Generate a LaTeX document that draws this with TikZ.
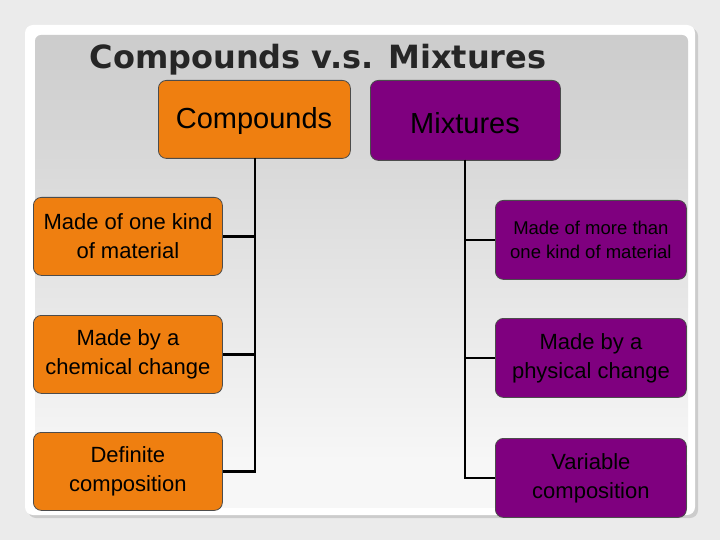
\documentclass[tikz,border=0pt]{standalone}
\usepackage{fontspec}
\setmainfont{Liberation Sans}
\newfontfamily\titlefont{DejaVu Sans}
\definecolor{org}{HTML}{EF7F10}
\definecolor{pur}{HTML}{7F007F}
\begin{document}
\begin{tikzpicture}[x=1pt,y=-1pt,
  box/.style={draw=black!70,line width=0.8pt,rounded corners=8pt,anchor=north west,inner sep=0pt,align=center},
  conn/.style={line width=2.5pt,black}]
\useasboundingbox (0,0) rectangle (720,540);
\fill[black!8] (0,0) rectangle (720,540);
\fill[black!20,rounded corners=8pt] (28,28) rectangle (698,518);
\fill[white,rounded corners=8pt] (25,25) rectangle (695,515);
\shade[top color=black!20,bottom color=black!3,rounded corners=6pt] (35,35) rectangle (688,465);
\fill[black!3] (35,465) rectangle (688,508);
\node[font=\titlefont\bfseries\fontsize{32}{36}\selectfont,text=black!85] (t) at (318,60) {Compounds v.s. Mixtures};
\node[box,fill=org,minimum width=192,minimum height=78] (c) at (158,80) {};
\node[font=\fontsize{29}{32}\selectfont] (ct) at (254,121) {Compounds};
\node[box,fill=pur,minimum width=190,minimum height=80] (m) at (370,80) {};
\node[font=\fontsize{29}{32}\selectfont] (mt) at (465,123) {Mixtures};
\foreach \n/\y/\t in {l1/197/{Made of one kind\\of material},l2/315/{Made by a\\chemical change},l3/432/{Definite\\composition}}{
  \node[box,fill=org,minimum width=189,minimum height=78] (\n) at (33,\y) {};
  \node[align=center,font=\fontsize{22}{29}\selectfont] (\n t) at (\n.center) {\t};
}
\foreach \n/\y/\t/\s/\b in {r1/200/{Made of more than\\one kind of material}/18.5/24,r2/318/{Made by a\\physical change}/22/29,r3/438/{Variable\\composition}/22/29}{
  \node[box,fill=pur,minimum width=191,minimum height=79] (\n) at (495,\y) {};
  \node[align=center,font=\fontsize{\s}{\b}\selectfont] (\n t) at (\n.center) {\t};
}
\coordinate (lt) at (255,158); \coordinate (rt) at (465,160);
\draw[conn] (lt) |- (l1.east);
\draw[conn] (lt) |- (l2.east);
\draw[conn] (lt) |- (l3.east);
\draw[conn] (rt) |- (r1.west);
\draw[conn] (rt) |- (r2.west);
\draw[conn] (rt) |- (r3.west);
\end{tikzpicture}
\end{document}
